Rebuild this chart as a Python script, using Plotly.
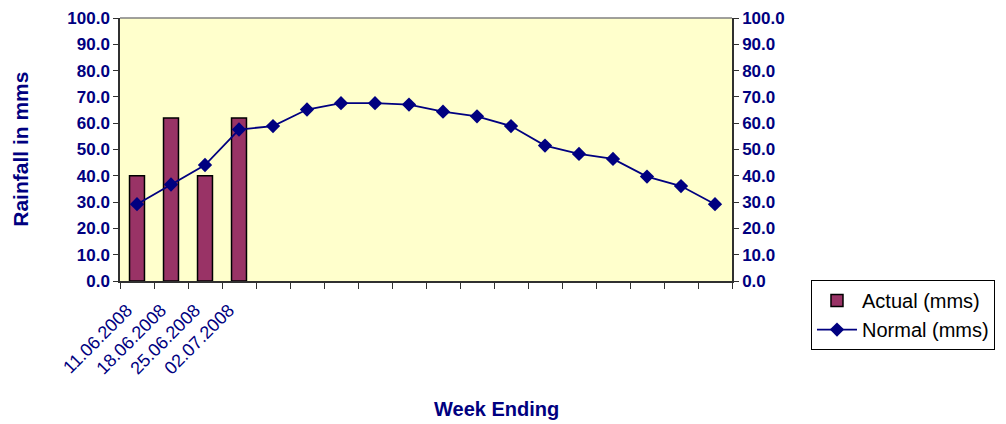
import plotly.graph_objects as go

week_labels = ["11.06.2008", "18.06.2008", "25.06.2008", "02.07.2008"] + [""] * 14
actual_mms = [40.0, 62.0, 40.0, 62.0]
normal_mms = [29.2, 36.7, 44.1, 57.6, 58.9, 65.2, 67.6, 67.6, 67.1, 64.4,
              62.6, 58.9, 51.5, 48.3, 46.4, 39.7, 36.1, 29.2]

NAVY = "#000080"
FONT = "Liberation Sans, Arial, sans-serif"

x = list(range(len(week_labels)))

fig = go.Figure()
fig.add_trace(go.Bar(
    x=x[:len(actual_mms)],
    y=actual_mms,
    name="Actual (mms)",
    marker=dict(color="#993366", line=dict(color="black", width=1.5)),
))
fig.add_trace(go.Scatter(
    x=x,
    y=normal_mms,
    name="Normal (mms)",
    mode="lines+markers",
    yaxis="y2",
    line=dict(color=NAVY, width=1.8),
    marker=dict(symbol="diamond", size=11, color=NAVY),
))

yaxis_common = dict(
    range=[0, 100], dtick=10, tickformat=".1f",
    showgrid=False, zeroline=False, automargin=False,
    showline=True, linecolor="#303030", linewidth=1.5,
    ticks="outside", ticklen=5, tickcolor="#303030",
    tickfont=dict(family=FONT, size=17, color=NAVY, weight="bold"),
)

# the page body adds an 8px offset, so the figure is 8px smaller than the window
fig.update_layout(
    width=998, height=416,
    margin=dict(l=112, r=274, t=10, b=143),
    paper_bgcolor="white",
    plot_bgcolor="#FFFFCC",
    bargap=0.56,
    font=dict(family=FONT),
    xaxis=dict(
        range=[-0.5, len(week_labels) - 0.5],
        tickmode="array", tickvals=x, ticktext=week_labels,
        tickangle=-45, ticklen=0, ticks="", automargin=False,
        ticklabelstandoff=10, ticklabelshift=-10,
        tickfont=dict(family=FONT, size=18, color=NAVY),
        showgrid=False, zeroline=False,
        showline=True, linecolor="#303030", linewidth=1.5,
        minor=dict(tickmode="array", tickvals=[i - 0.5 for i in range(len(week_labels) + 1)],
                   ticks="outside", ticklen=6, tickcolor="#303030", showgrid=False),
    ),
    yaxis=dict(**yaxis_common),
    yaxis2=dict(**yaxis_common, overlaying="y", side="right"),
    legend=dict(
        xref="container", yref="container",
        x=0.8046, y=0.346, xanchor="left", yanchor="top",
        font=dict(family=FONT, size=20, color="black"),
        bordercolor="black", borderwidth=1, bgcolor="white",
        tracegroupgap=0, itemwidth=40,
    ),
    showlegend=True,
    shapes=[dict(type="line", xref="paper", yref="paper", x0=0, x1=1, y0=1, y1=1,
                 line=dict(color="#808080", width=1.5))],
    annotations=[
        dict(text="Rainfall in mms", xref="paper", yref="paper", x=-0.163, y=0.5,
             textangle=-90, showarrow=False, xanchor="center", yanchor="middle",
             font=dict(family=FONT, size=21, color=NAVY, weight="bold")),
        dict(text="Week Ending", xref="paper", yref="paper", x=0.616, y=-0.487,
             showarrow=False, xanchor="center", yanchor="middle",
             font=dict(family=FONT, size=20, color=NAVY, weight="bold")),
    ],
)

fig.write_html("out.html")
